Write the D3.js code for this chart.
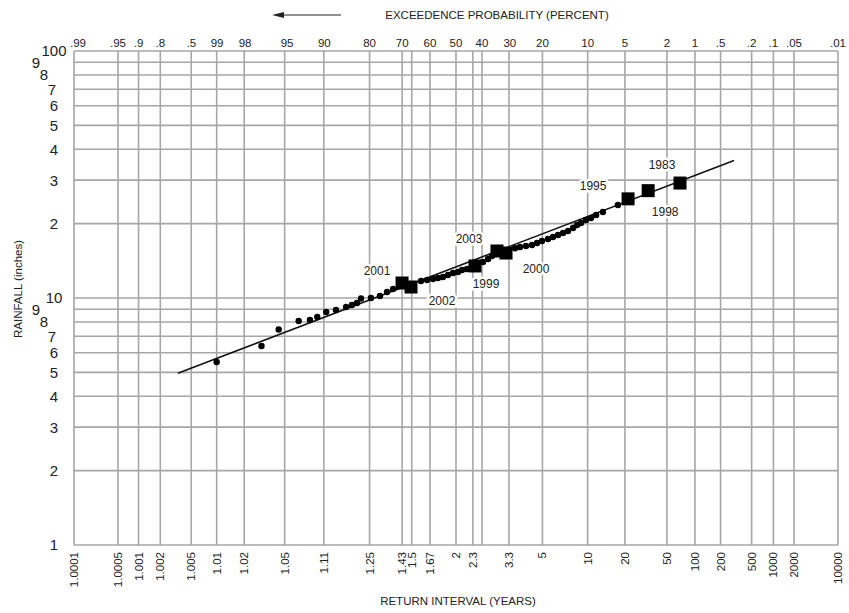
<!DOCTYPE html>
<html>
<head>
<meta charset="utf-8">
<script src="https://cdn.jsdelivr.net/npm/d3@7"></script>
<style>
  body { margin: 0; background: #fff; }
  text { font-family: "Liberation Sans", Arial, sans-serif; fill: #222; }
</style>
</head>
<body>
<div id="chart"></div>
<script>
// exceedance probability (percent) along the top
const probLabels = [".99", ".95", ".9", ".8", ".5", "99", "98", "95", "90", "80", "70", "60", "50", "40", "30", "20", "10", "5", "2", "1", ".5", ".2", ".1", ".05", ".01"];
const probValues = [99.99, 99.95, 99.9, 99.8, 99.5, 99, 98, 95, 90, 80, 70, 60, 50, 40, 30, 20, 10, 5, 2, 1, 0.5, 0.2, 0.1, 0.05, 0.01];

// return interval (years) along the bottom
const returnLabels = ["1.0001", "1.0005", "1.001", "1.002", "1.005", "1.01", "1.02", "1.05", "1.11", "1.25", "1.43", "1.5", "1.67", "2", "2.3", "3.3", "5", "10", "20", "50", "100", "200", "500", "1000", "2000", "10000"];
const returnValues = [1.0001, 1.0005, 1.001, 1.002, 1.005, 1.01, 1.02, 1.05, 1.11, 1.25, 1.43, 1.5, 1.67, 2, 2.3, 3.3, 5, 10, 20, 50, 100, 200, 500, 1000, 2000, 10000];

// rainfall axis
const rainTicks = [1, 2, 3, 4, 5, 6, 7, 8, 9, 10, 20, 30, 40, 50, 60, 70, 80, 90, 100];
const rainTickLabels = ["1", "2", "3", "4", "5", "6", "7", "8", "9", "10", "2", "3", "4", "5", "6", "7", "8", "9", "100"];

// annual maxima (dots)
const dotReturn = [1.010, 1.030, 1.044, 1.067, 1.084, 1.097, 1.115, 1.138, 1.166, 1.184,
  1.201, 1.216, 1.256, 1.298, 1.335, 1.370,
  1.579, 1.637, 1.699, 1.756, 1.817, 1.883, 1.955, 2.032, 2.098, 2.186,
  2.523, 2.648, 2.755,
  3.536, 3.751, 4.036, 4.354, 4.649, 4.97, 5.40, 5.80, 6.24, 6.73,
  7.26, 7.86, 8.38, 8.95, 9.73, 10.6, 11.6, 13.1, 17.4];
const dotRain = [5.51, 6.39, 7.46, 8.07, 8.15, 8.38, 8.78, 8.94, 9.19, 9.37,
  9.54, 9.95, 10.0, 10.19, 10.57, 10.87,
  11.72, 11.83, 11.94, 12.05, 12.16, 12.39, 12.62, 12.74, 12.98, 13.1,
  13.99, 14.39, 14.79,
  15.9, 16.09, 16.24, 16.39, 16.70, 17.01, 17.33, 17.66, 17.99, 18.33,
  18.68, 19.20, 19.75, 20.12, 20.69, 21.08, 21.68, 22.3, 23.8];

// labelled years (squares)
const peakYears = ["2001", "2002", "1999", "2003", "2000", "1995", "1998", "1983"];
const peakReturn = [1.428, 1.494, 2.344, 2.899, 3.194, 21.3, 32.6, 68.5];
const peakRain = [11.50, 11.08, 13.48, 15.5, 15.21, 25.2, 27.2, 29.2];

// fitted distribution line, end points
const fitReturn = [1.0034, 294];
const fitRain = [4.96, 36.0];

// inverse normal cdf (Acklam)
const probit = (p) => {
  const a = [-3.969683028665376e+01, 2.209460984245205e+02, -2.759285104469687e+02, 1.383577518672690e+02, -3.066479806614716e+01, 2.506628277459239e+00];
  const b = [-5.447609879822406e+01, 1.615858368580409e+02, -1.556989798598866e+02, 6.680131188771972e+01, -1.328068155288572e+01];
  const c = [-7.784894002430293e-03, -3.223964580411365e-01, -2.400758277161838e+00, -2.549732539343734e+00, 4.374664141464968e+00, 2.938163982698783e+00];
  const d = [7.784695709041462e-03, 3.224671290700398e-01, 2.445134137142996e+00, 3.754408661907416e+00];
  const pl = 0.02425;
  if (p < pl) {
    const q = Math.sqrt(-2 * Math.log(p));
    return (((((c[0]*q+c[1])*q+c[2])*q+c[3])*q+c[4])*q+c[5]) / ((((d[0]*q+d[1])*q+d[2])*q+d[3])*q+1);
  }
  if (p > 1 - pl) {
    const q = Math.sqrt(-2 * Math.log(1 - p));
    return -(((((c[0]*q+c[1])*q+c[2])*q+c[3])*q+c[4])*q+c[5]) / ((((d[0]*q+d[1])*q+d[2])*q+d[3])*q+1);
  }
  const q = p - 0.5, r = q * q;
  return (((((a[0]*r+a[1])*r+a[2])*r+a[3])*r+a[4])*r+a[5])*q / (((((b[0]*r+b[1])*r+b[2])*r+b[3])*r+b[4])*r+1);
};

const width = 849, height = 613;
const plotLeft = 74, plotRight = 838, plotTop = 51, plotBottom = 545;

const z = d3.scaleLinear().domain([probit(0.0001), probit(0.9999)]).range([plotLeft, plotRight]);
const xP = (pct) => z(probit(1 - pct / 100));
const xT = (t) => z(probit(1 - 1 / t));
const y = d3.scaleLog().domain([1, 100]).range([plotBottom, plotTop]);

const svg = d3.select("#chart").append("svg")
  .attr("width", width)
  .attr("height", height);

const gridColor = "#a6a6a6";

// vertical grid: every probability and return interval line, near-duplicates merged
const vLines = [];
probValues.map(xP).concat(returnValues.map(xT)).sort((a, b) => a - b).forEach(v => {
  if (!vLines.length || v - vLines[vLines.length - 1] > 2.5) vLines.push(v);
});
svg.append("g").selectAll("line")
  .data(vLines)
  .enter().append("line")
  .attr("x1", d => d).attr("x2", d => d)
  .attr("y1", plotTop).attr("y2", plotBottom)
  .attr("stroke", gridColor).attr("stroke-width", 1.6);

svg.append("g").selectAll("line")
  .data(rainTicks)
  .enter().append("line")
  .attr("x1", plotLeft).attr("x2", plotRight)
  .attr("y1", d => y(d)).attr("y2", d => y(d))
  .attr("stroke", gridColor).attr("stroke-width", 1.6);

// top labels
svg.append("g").selectAll("text")
  .data(probValues)
  .enter().append("text")
  .attr("x", (d, i) => xP(d) + (i === 0 ? 4 : 0))
  .attr("y", 47)
  .attr("text-anchor", "middle")
  .attr("font-size", 11.5)
  .text((d, i) => probLabels[i]);

// bottom labels, rotated
svg.append("g").selectAll("text")
  .data(returnValues)
  .enter().append("text")
  .attr("transform", d => `translate(${xT(d) + 4},552) rotate(-90)`)
  .attr("text-anchor", "end")
  .attr("font-size", 11.5)
  .text((d, i) => returnLabels[i]);

// y labels, 7-8-9 staggered like the printed paper
const stagger = { 9: -18, 8: -10, 7: -2, 90: -18, 80: -10, 70: -2 };
svg.append("g").selectAll("text")
  .data(rainTicks)
  .enter().append("text")
  .attr("x", d => 54 + (stagger[d] || 0))
  .attr("y", d => y(d))
  .attr("dy", "0.36em")
  .attr("text-anchor", "middle")
  .attr("font-size", 15)
  .text((d, i) => rainTickLabels[i]);

// titles
svg.append("text")
  .attr("x", 497).attr("y", 19)
  .attr("text-anchor", "middle")
  .attr("font-size", 11.5)
  .text("EXCEEDENCE PROBABILITY (PERCENT)");
svg.append("line")
  .attr("x1", 282).attr("x2", 341).attr("y1", 15).attr("y2", 15)
  .attr("stroke", "#222").attr("stroke-width", 1);
svg.append("path")
  .attr("d", "M272,15 L284,12 L284,18 Z")
  .attr("fill", "#222");

svg.append("text")
  .attr("x", 458).attr("y", 605)
  .attr("text-anchor", "middle")
  .attr("font-size", 11.5)
  .text("RETURN INTERVAL (YEARS)");

svg.append("text")
  .attr("transform", "translate(22,289) rotate(-90)")
  .attr("text-anchor", "middle")
  .attr("font-size", 11.5)
  .text("RAINFALL (inches)");

// fitted line
svg.append("line")
  .attr("x1", xT(fitReturn[0])).attr("y1", y(fitRain[0]))
  .attr("x2", xT(fitReturn[1])).attr("y2", y(fitRain[1]))
  .attr("stroke", "#111").attr("stroke-width", 1.6);

// observations
svg.append("g").selectAll("circle")
  .data(dotReturn)
  .enter().append("circle")
  .attr("cx", d => xT(d))
  .attr("cy", (d, i) => y(dotRain[i]))
  .attr("r", 3.2)
  .attr("fill", "#000");

const sq = 13;
svg.append("g").selectAll("rect")
  .data(peakReturn)
  .enter().append("rect")
  .attr("x", d => xT(d) - sq / 2)
  .attr("y", (d, i) => y(peakRain[i]) - sq / 2)
  .attr("width", sq).attr("height", sq)
  .attr("fill", "#000");

// label offsets from each square
const labelOffset = {
  "2001": [-25, -12], "2002": [31, 14], "1999": [11, 18], "2003": [-28, -12],
  "2000": [30, 16], "1995": [-35, -13], "1998": [17, 21], "1983": [-18, -18]
};
svg.append("g").selectAll("text")
  .data(peakYears)
  .enter().append("text")
  .attr("x", (d, i) => xT(peakReturn[i]) + labelOffset[d][0])
  .attr("y", (d, i) => y(peakRain[i]) + labelOffset[d][1])
  .attr("dy", "0.36em")
  .attr("text-anchor", "middle")
  .attr("font-size", 12)
  .attr("stroke", "#fff").attr("stroke-width", 5)
  .attr("paint-order", "stroke")
  .text(d => d);
</script>
</body>
</html>
